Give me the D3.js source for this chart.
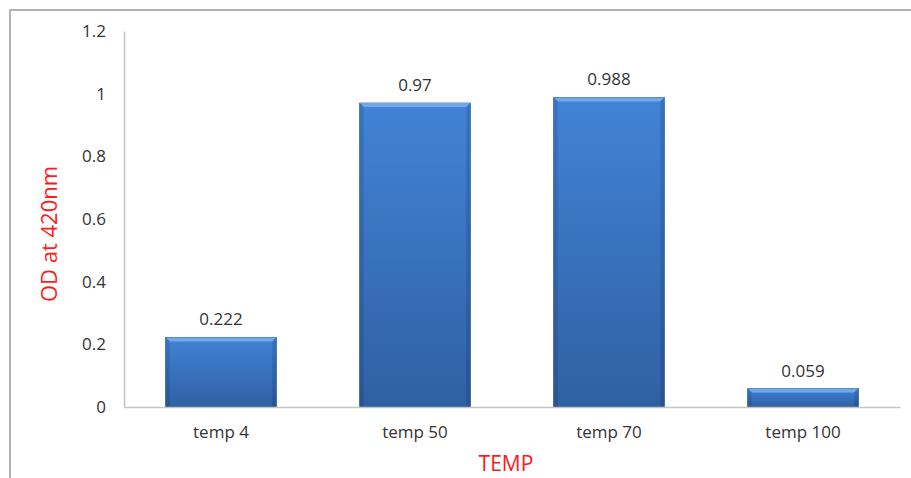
<!DOCTYPE html>
<html>
<head>
<meta charset="utf-8">
<script src="https://cdn.jsdelivr.net/npm/d3@7"></script>
<style>
  html, body { margin: 0; padding: 0; background: #fff; }
  svg { display: block; }
</style>
</head>
<body>
<svg id="chart" width="911" height="478"></svg>
<script>
// Absorbance readings per incubation temperature
const categories = ["temp 4", "temp 50", "temp 70", "temp 100"];
const odValues = [0.222, 0.97, 0.988, 0.059];
const yTicks = [0, 0.2, 0.4, 0.6, 0.8, 1, 1.2];
const yTickLabels = ["0", "0.2", "0.4", "0.6", "0.8", "1", "1.2"];

const svg = d3.select("#chart");
const W = 911, H = 478;
const plot = { left: 124, right: 900, top: 31, bottom: 407 };
const font = "'Open Sans', sans-serif";

// Outer frame (top and left edges)
svg.append("path")
  .attr("d", `M10,${H} L10,10 L${W},10`)
  .attr("fill", "none")
  .attr("stroke", "#b3b3b3")
  .attr("stroke-width", 2);

const x = d3.scaleBand().domain(categories).range([plot.left, plot.right]).paddingInner(0.43).paddingOuter(0.215);
const y = d3.scaleLinear().domain([0, 1.2]).range([plot.bottom, plot.top]);

// Gradients for the bevelled bars
const defs = svg.append("defs");
const g = defs.append("linearGradient").attr("id", "barFill").attr("x1", 0).attr("y1", 0).attr("x2", 0).attr("y2", 1);
g.append("stop").attr("offset", "0%").attr("stop-color", "#4283d6");
g.append("stop").attr("offset", "100%").attr("stop-color", "#2f60a3");
const gs = defs.append("linearGradient").attr("id", "sideFill").attr("x1", 0).attr("y1", 0).attr("x2", 0).attr("y2", 1);
gs.append("stop").attr("offset", "0%").attr("stop-color", "#3671bd");
gs.append("stop").attr("offset", "100%").attr("stop-color", "#27528e");

// Axes (lines only, no tick marks)
const yAxis = d3.axisLeft(y).tickValues(yTicks).tickSize(0).tickPadding(18)
  .tickFormat((d, i) => yTickLabels[i]);
const yG = svg.append("g").attr("transform", `translate(${plot.left},0)`).call(yAxis);
yG.select(".domain").attr("stroke", "#c4c4c4").attr("stroke-width", 1.5);
yG.selectAll("text").attr("font-family", font).attr("font-size", 17).attr("fill", "#333");

const bars = svg.append("g");
const bw = x.bandwidth();
const bev = 4;
odValues.forEach((v, i) => {
  const x0 = x(categories[i]);
  const y0 = y(v);
  const y1 = y(0);
  const gB = bars.append("g");
  // body
  gB.append("rect").attr("x", x0).attr("y", y0).attr("width", bw).attr("height", y1 - y0)
    .attr("fill", "url(#barFill)").attr("stroke", "#2a5590").attr("stroke-width", 0.8);
  // top bevel
  gB.append("polygon")
    .attr("points", [[x0, y0], [x0 + bw, y0], [x0 + bw - bev, y0 + bev], [x0 + bev, y0 + bev]].join(" "))
    .attr("fill", "#70a8ea");
  // side bevels
  gB.append("polygon")
    .attr("points", [[x0, y0], [x0 + bev, y0 + bev], [x0 + bev, y1], [x0, y1]].join(" "))
    .attr("fill", "url(#sideFill)").attr("opacity", 0.8);
  gB.append("polygon")
    .attr("points", [[x0 + bw, y0], [x0 + bw - bev, y0 + bev], [x0 + bw - bev, y1], [x0 + bw, y1]].join(" "))
    .attr("fill", "url(#sideFill)").attr("opacity", 0.9);
  // value label
  svg.append("text").attr("x", x0 + bw / 2).attr("y", y0 - 12)
    .attr("text-anchor", "middle").attr("font-family", font).attr("font-size", 17).attr("fill", "#333")
    .text(v);
});

const xAxis = d3.axisBottom(x).tickSize(0).tickPadding(19);
const xG = svg.append("g").attr("transform", `translate(0,${plot.bottom})`).call(xAxis);
xG.select(".domain").attr("stroke", "#c4c4c4").attr("stroke-width", 1.5);
xG.selectAll("text").attr("font-family", font).attr("font-size", 17).attr("fill", "#333");

// Axis titles
svg.append("text").attr("x", 506).attr("y", 471).attr("text-anchor", "middle")
  .attr("font-family", font).attr("font-size", 21).attr("fill", "#ff1a1a").text("TEMP");
svg.append("text").attr("transform", "translate(57,234) rotate(-90)").attr("text-anchor", "middle")
  .attr("font-family", font).attr("font-size", 22).attr("fill", "#ff1a1a").text("OD at 420nm");
</script>
</body>
</html>
